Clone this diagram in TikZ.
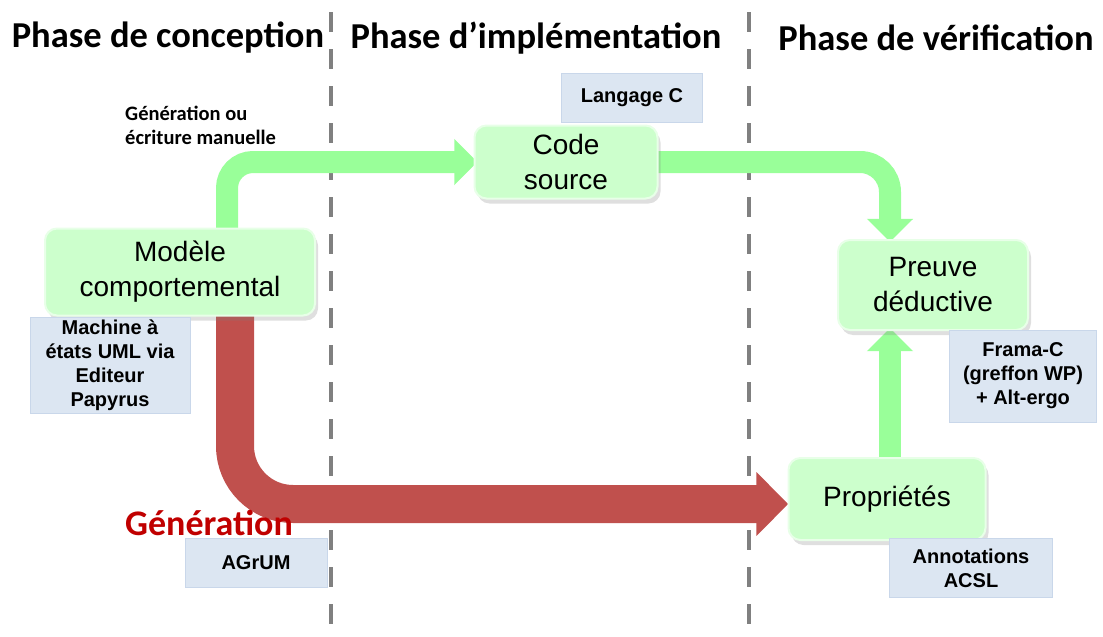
\documentclass[tikz,border=0pt]{standalone}
\usepackage{fontspec}
\setmainfont{Liberation Sans}
\newfontfamily\calib{Carlito}
\usetikzlibrary{arrows.meta,shadows}
\definecolor{gfill}{HTML}{CCFFCC}
\definecolor{gedge}{HTML}{E8FFE8}
\definecolor{garr}{HTML}{99FF99}
\definecolor{rarr}{HTML}{C0504D}
\definecolor{bfill}{HTML}{DCE6F2}
\definecolor{bedge}{HTML}{C9D7EA}
\definecolor{dgray}{HTML}{808080}
\definecolor{gentxt}{HTML}{C00000}
\tikzset{
  gbox/.style={draw=gedge, line width=2pt, fill=gfill, rounded corners=12pt, align=center,
    font=\fontsize{28}{35}\selectfont, inner sep=0pt,
    drop shadow={opacity=0.25, shadow xshift=3pt, shadow yshift=-5pt}},
  bbox/.style={draw=bedge, line width=0.8pt, fill=bfill, align=center, inner sep=0pt,
    font=\bfseries\fontsize{20}{24}\selectfont},
  phase/.style={font=\calib\bfseries\fontsize{36.5}{42}\selectfont, inner sep=0pt},
  sep/.style={draw=dgray, line width=4.5pt, dash pattern=on 20pt off 17pt},
  garrow/.style={draw=garr, line width=22pt, -{Triangle[length=23pt,width=45pt]}},
  rarrow/.style={draw=rarr, line width=38pt, rounded corners=58pt, -{Triangle[length=32pt,width=62pt]}}
}
\begin{document}
\begin{tikzpicture}[x=1pt,y=-1pt]
\useasboundingbox (0,0) rectangle (1103,637);
% separators
\coordinate (s1a) at (331,12);
\coordinate (s1b) at (331,637);
\coordinate (s2a) at (749,12);
\coordinate (s2b) at (749,637);
\draw[sep] (s1a) -- (s1b);
\draw[sep] (s2a) -- (s2b);
% phase headers
\node[phase] (h1) at (168,38) {Phase de conception};
\node[phase] (h2) at (536,38) {Phase d’implémentation};
\node[phase] (h3) at (936,38) {Phase de vérification};
% main node positions
\path (180,272) coordinate (cm);
\path (566,162) coordinate (cc);
\path (933,285) coordinate (cp);
\path (887,499) coordinate (cr);
% placeholders to route arrows
\node[minimum width=270pt, minimum height=87pt, inner sep=0pt] (modele) at (cm) {};
\node[minimum width=183pt, minimum height=73pt, inner sep=0pt] (code) at (cc) {};
\node[minimum width=190pt, minimum height=90pt, inner sep=0pt] (preuve) at (cp) {};
\node[minimum width=197pt, minimum height=82pt, inner sep=0pt] (prop) at (cr) {};
% arrows
\draw[garrow, rounded corners=26pt] ([xshift=47pt]modele.north) |- ([xshift=3pt]code.west);
\draw[garrow, rounded corners=30pt] (code.east) -| ([xshift=-43pt,yshift=-2pt]preuve.north);
\draw[garrow] ([xshift=-43pt]preuve.south |- prop.north) -- ([xshift=-43pt,yshift=2pt]preuve.south);
\draw[rarrow] ([xshift=55pt]modele.south) |- ([yshift=-5pt]prop.west);
% visible green boxes
\node[gbox, minimum width=270pt, minimum height=87pt] (modeleB) at (cm) {Modèle\\comportemental};
\node[gbox, minimum width=183pt, minimum height=73pt] (codeB) at (cc) {Code\\source};
\node[gbox, minimum width=190pt, minimum height=90pt] (preuveB) at (cp) {Preuve\\déductive};
\node[gbox, minimum width=197pt, minimum height=82pt] (propB) at (cr) {Propriétés};
% blue boxes
\node[bbox, minimum width=160pt, minimum height=96pt] (machine) at (110,365) {Machine à\\états UML via\\Editeur\\Papyrus};
\node[bbox, minimum width=141pt, minimum height=49pt] (langage) at (632,98) {Langage C};
\node[bbox, minimum width=147pt, minimum height=92pt] (frama) at (1023,376) {Frama-C\\(greffon WP)\\+ Alt-ergo};
\node[bbox, minimum width=142pt, minimum height=49pt] (agrum) at (256,563) {AGrUM};
\node[bbox, minimum width=163pt, minimum height=59pt] (acsl) at (971,568) {Annotations\\ACSL};
% labels
\node[font=\calib\bfseries\fontsize{20.5}{24}\selectfont, align=left, anchor=west, inner sep=0pt] (genlbl) at (125,125) {Génération ou\\écriture manuelle};
\node[font=\calib\bfseries\fontsize{36}{42}\selectfont, text=gentxt, inner sep=0pt] (gen) at (209,523) {Génération};
\end{tikzpicture}
\end{document}
